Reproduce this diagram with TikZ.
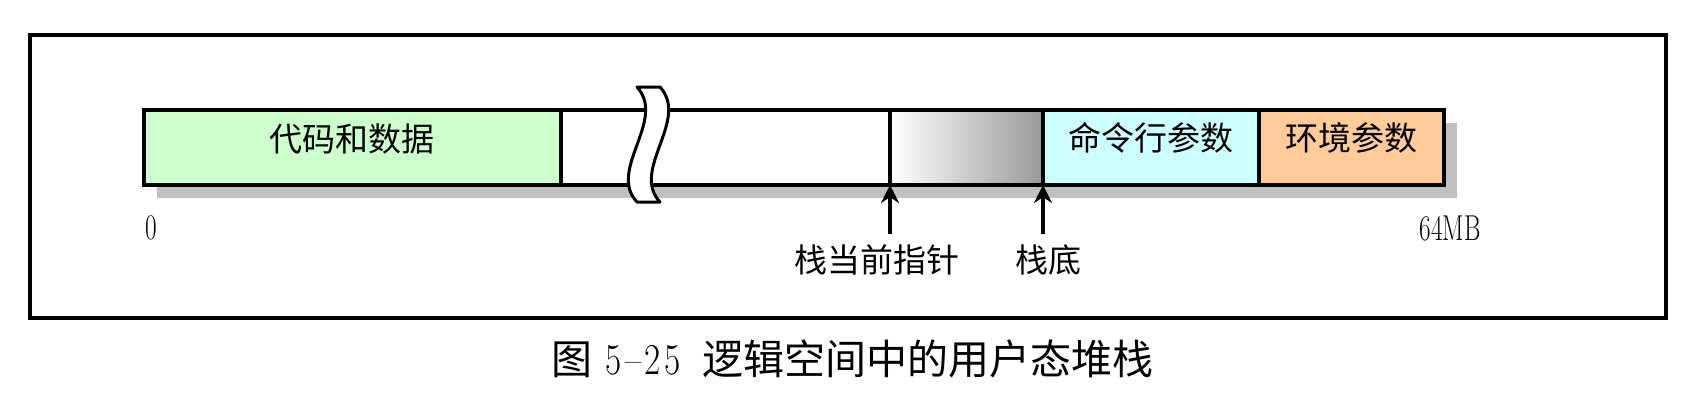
\documentclass[tikz,border=0pt]{standalone}
\usepackage{fontspec}
\usepackage{graphicx}
\newfontfamily\cjk{Noto Sans CJK SC}
\usetikzlibrary{arrows.meta}
\definecolor{codegreen}{HTML}{CCFFCC}
\definecolor{argcyan}{HTML}{CCFFFF}
\definecolor{envorange}{HTML}{FFCC99}
\definecolor{shadowgray}{HTML}{C0C0C0}
\definecolor{stackgray}{HTML}{999999}
\newcommand{\hw}[1]{\makebox[19.5pt]{\scalebox{0.8}[1]{#1}}}
\begin{document}
\begin{tikzpicture}[x=1pt,y=-1pt,
  seg/.style={draw=black, line width=3.5pt, minimum height=75pt, inner sep=0pt, outer sep=0pt, anchor=north west},
  lbl/.style={font=\cjk\fontsize{33}{36}\selectfont, inner sep=0pt},
  num/.style={font=\fontsize{36}{40}\selectfont, inner sep=0pt},
  ptr/.style={line width=4pt, -{Stealth[length=18pt,width=18pt]}},
  brk/.style={draw=black, fill=white, line width=3pt, line join=round},
  frm/.style={draw=black, line width=4.5pt, inner sep=0pt, outer sep=0pt, anchor=north west}
  ]
\useasboundingbox (0,0) rectangle (1702,404);
\node[frm, minimum width=1636pt, minimum height=283pt] (frame) at (30,35) {};
% shadow
\fill[shadowgray] (157,123) rectangle (1457,198);
% segments
\node[seg, fill=codegreen, minimum width=417pt] (code) at (144,110) {};
\node[seg, fill=white, minimum width=329pt] (free) at (561,110) {};
\node[seg, left color=white, right color=stackgray, minimum width=153pt] (stack) at (890,110) {};
\node[seg, fill=argcyan, minimum width=216pt] (args) at (1043,110) {};
\node[seg, fill=envorange, minimum width=185pt] (env) at (1259,110) {};
% break mark
\draw[brk] (637,87) .. controls (667,120) and (607,170) .. (637,202)
  -- (660,202) .. controls (630,170) and (690,120) .. (660,87) -- cycle;
% labels in boxes
\node[lbl] (codet) at (352,139) {代码和数据};
\node[lbl] (argst) at (1151,138) {命令行参数};
\node[lbl] (envt) at (1351,138) {环境参数};
% address labels
\node[num] (zero) at (151,228) {\scalebox{0.7}[1]{0}};
\node[num] (topaddr) at (1450,228) {\scalebox{0.7}[1]{64MB}};
% pointers
\coordinate (spfoot) at (890,234);
\coordinate (botfoot) at (1043,234);
\draw[ptr] (spfoot) -- (stack.south west);
\draw[ptr] (botfoot) -- (stack.south east);
\node[lbl] (spt) at (877,260) {栈当前指针};
\node[lbl] (bott) at (1048,260) {栈底};
% caption
\node[inner sep=0pt, font=\fontsize{41}{44}\selectfont] (cap) at (852,359)
  {{\cjk 图}\hspace{12pt}{\fontsize{44}{46}\selectfont\hw{5}\hw{--}\hw{2}\hw{5}}\hspace{20pt}{\cjk 逻辑空间中的用户态堆栈}};
\end{tikzpicture}
\end{document}
